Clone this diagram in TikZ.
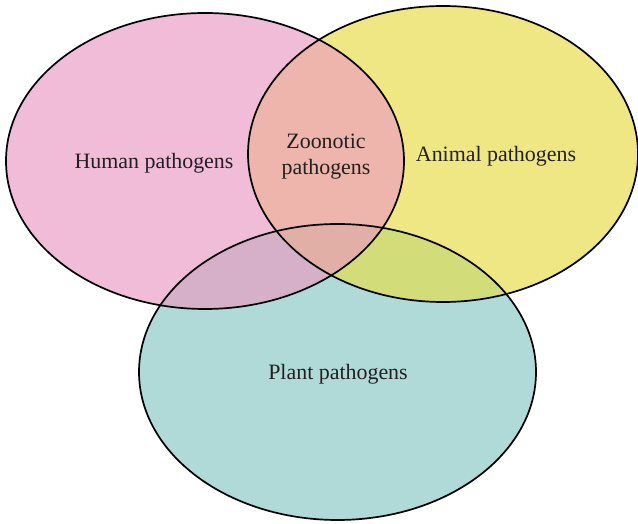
\documentclass[tikz,border=0pt]{standalone}
\usepackage{fontspec}
\setmainfont{Liberation Serif}
\definecolor{humanpink}{HTML}{F0BCD8}
\definecolor{animalyellow}{HTML}{EFE784}
\definecolor{plantteal}{HTML}{B0DAD8}
\definecolor{zoosalmon}{HTML}{EDB5AC}
\definecolor{humanplant}{HTML}{D6AFC8}
\definecolor{animalplant}{HTML}{D2DC78}
\definecolor{allthree}{HTML}{E2AFA6}
\definecolor{labeltext}{HTML}{231F20}
\tikzset{
  rim/.style={draw=black,line width=1.7bp},
  setlabel/.style={text=labeltext,font=\fontsize{22}{26}\selectfont,align=center}}
\newcommand{\humanset}{(H) ellipse [x radius=199, y radius=148]}
\newcommand{\animalset}{(A) ellipse [x radius=195, y radius=148]}
\newcommand{\plantset}{(P) ellipse [x radius=198.5, y radius=148]}
\begin{document}
\begin{tikzpicture}[x=1bp,y=1bp]
	\useasboundingbox (0,0) rectangle (638,524);
	\coordinate (H) at (205,363);
	\coordinate (A) at (443,370);
	\coordinate (P) at (337.5,152);
	% plain sets
	\fill[humanpink] \humanset;
	\fill[animalyellow] \animalset;
	\fill[plantteal] \plantset;
	% overlaps
	\begin{scope}
		\clip \humanset;
		\fill[zoosalmon] \animalset;
		\fill[humanplant] \plantset;
	\end{scope}
	\begin{scope}
		\clip \animalset;
		\fill[animalplant] \plantset;
	\end{scope}
	\begin{scope}
		\clip \humanset;
		\clip \animalset;
		\fill[allthree] \plantset;
	\end{scope}
	% outlines
	\draw[rim] \humanset;
	\draw[rim] \animalset;
	\draw[rim] \plantset;
	% labels
	\node[setlabel] (human) at (154,360.5) {Human pathogens};
	\node[setlabel] (zoo) at (326,367.5) {Zoonotic\\pathogens};
	\node[setlabel] (animal) at (496,367.5) {Animal pathogens};
	\node[setlabel] (plant) at (338,149.5) {Plant pathogens};
\end{tikzpicture}
\end{document}
